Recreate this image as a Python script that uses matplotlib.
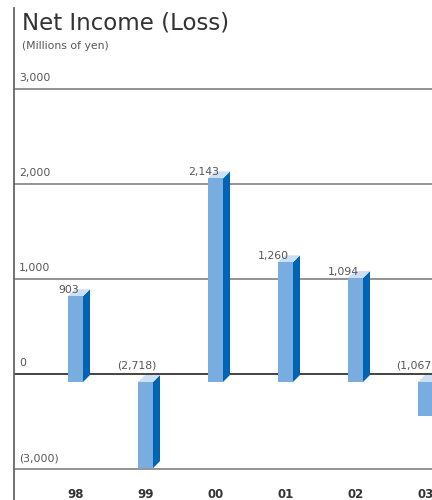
import numpy as np
import matplotlib
matplotlib.use("Agg")
import matplotlib.pyplot as plt
from matplotlib.patches import Polygon
from matplotlib.transforms import IdentityTransform, ScaledTranslation

# data
years = ["98", "99", "00", "01", "02", "03"]
net_income = [903, -2718, 2143, 1260, 1094, -1067]
value_labels = ["903", "(2,718)", "2,143", "1,260", "1,094", "(1,067)"]
tick_values = [3000, 2000, 1000, 0, -3000]
tick_labels = ["3,000", "2,000", "1,000", "0", "(3,000)"]

front_col = "#79ade0"
side_col = "#0064b4"
top_col = "#cddff2"
text_col = "#555555"

plt.rcParams["font.family"] = ["DejaVu Sans"]


# losses are drawn on a compressed scale (1/3)
def fwd(y):
    y = np.asarray(y, dtype=float)
    return np.where(y >= 0, y, y / 3.0)


def inv(y):
    y = np.asarray(y, dtype=float)
    return np.where(y >= 0, y, y * 3.0)


fig = plt.figure(figsize=(4.32, 5.0), dpi=100)
ax = fig.add_axes([14 / 432, 0, 418 / 432, 492 / 500])
ax.set_yscale("function", functions=(fwd, inv))
ax.set_xlim(-0.879, 5.093)
ax.set_ylim(-3979, 3853)
ax.set_xticks([])
ax.set_yticks([])
for s in ["top", "right", "bottom"]:
    ax.spines[s].set_visible(False)
ax.spines["left"].set_color("#666666")
ax.spines["left"].set_linewidth(1.3)

for val, lbl in zip(tick_values, tick_labels):
    ax.axhline(val, color="#111111" if val == 0 else "#777777", lw=1.1, zorder=1)
    ax.annotate(lbl, xy=(0, val), xycoords=("axes fraction", "data"),
                xytext=(5, 6), textcoords="offset pixels",
                ha="left", va="bottom", fontsize=7.8, color=text_col)

w = 0.214
depth = 7
drop = 8
x = np.arange(len(years))

shift = ScaledTranslation(0, -drop / fig.dpi, fig.dpi_scale_trans)
ax.bar(x, net_income, width=w, color=front_col, linewidth=0,
       transform=ax.transData + shift, zorder=4)

for xi, v in zip(x, net_income):
    (x0, yb), (x1, yt) = ax.transData.transform([(xi - w / 2, 0), (xi + w / 2, v)])
    yb -= drop
    yt -= drop
    top, bot = max(yb, yt), min(yb, yt)
    side = [(x1, bot), (x1 + depth, bot + depth), (x1 + depth, top + depth), (x1, top)]
    lid = [(x0, top), (x1, top), (x1 + depth, top + depth), (x0 + depth, top + depth)]
    ax.add_artist(Polygon(side, closed=True, facecolor=side_col, lw=0,
                          transform=IdentityTransform(), zorder=3))
    ax.add_artist(Polygon(lid, closed=True, facecolor=top_col, lw=0,
                          transform=IdentityTransform(), zorder=3))

for xi, v, lbl in zip(x, net_income, value_labels):
    if v >= 0:
        ax.annotate(lbl, xy=(xi + w / 2, v), xytext=(-4, -5), textcoords="offset pixels",
                    ha="right", va="baseline", fontsize=7.8, color=text_col, zorder=6,
                    annotation_clip=False)
    else:
        ax.annotate(lbl, xy=(xi + w / 2, 0), xytext=(3, 6), textcoords="offset pixels",
                    ha="right", va="baseline", fontsize=7.8, color=text_col, zorder=6,
                    annotation_clip=False)

for xi, yr in zip(x, years):
    ax.annotate(yr, xy=(xi, 0), xycoords=ax.get_xaxis_transform(),
                xytext=(0, 5), textcoords="offset pixels", ha="center", va="center",
                fontsize=8.5, fontweight="bold", color="#333333", annotation_clip=False)

fig.text(22 / 432, 1 - 11 / 500, "Net Income (Loss)", ha="left", va="top",
         fontsize=16.5, color="#333333")
fig.text(22 / 432, 1 - 41 / 500, "(Millions of yen)", ha="left", va="top",
         fontsize=7.8, color=text_col)

fig.savefig("out.png", dpi=100)
